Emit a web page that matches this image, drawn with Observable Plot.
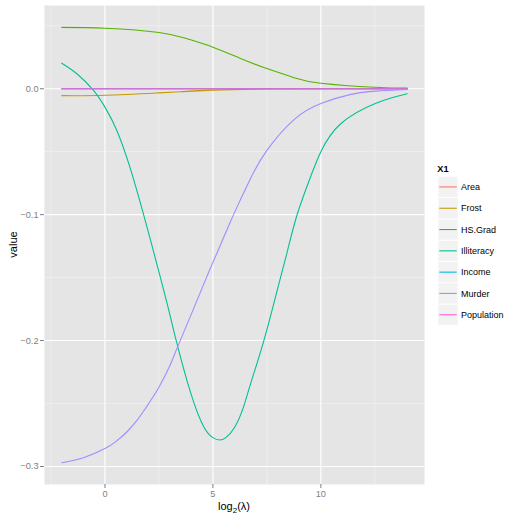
<!DOCTYPE html>
<html>
<head>
<meta charset="utf-8">
<script src="https://cdn.jsdelivr.net/npm/d3@7"></script>
<script src="https://cdn.jsdelivr.net/npm/@observablehq/plot@0.6"></script>
<style>
  html, body { margin: 0; padding: 0; background: #ffffff; }
  #chart { width: 506px; height: 514px; }
</style>
</head>
<body>
<div id="chart"></div>
<script>
// ---- data ----
const seriesNames = ["Area", "Frost", "HS.Grad", "Illiteracy", "Income", "Murder", "Population"];
const seriesColors = ["#F8766D", "#C49A00", "#53B400", "#00C094", "#00B6EB", "#A58AFF", "#FB61D7"];

const areaX = [-2, 2, 6, 10, 14];
const areaY = [0, 0, 0, 0, 0];

const frostX = [-2, 0, 2.5, 3.5, 5, 7.5, 10, 14];
const frostY = [-0.0055, -0.0052, -0.0033, -0.0024, -0.0011, -0.0002, 0, 0];

const hsGradX = [-2, 0, 2.5, 3.8, 5, 6.28, 7.5, 8.76, 10, 12.5, 14];
const hsGradY = [0.0487, 0.0480, 0.0447, 0.0397, 0.0330, 0.0240, 0.0160, 0.0088, 0.0044, 0.0012, 0.0005];

const illiteracyX = [-2, -1.3, -0.53, 0, 0.56, 1.17, 1.79, 2.57, 3.03, 3.3, 3.96, 4.58, 5.0, 5.3, 5.6, 6.0, 6.4, 6.75, 7.36, 7.98, 8.45, 8.91, 9.5, 10, 10.92, 12.55, 14];
const illiteracyY = [0.0203, 0.0119, -0.0013, -0.0146, -0.0335, -0.0630, -0.100, -0.150, -0.181, -0.200, -0.241, -0.2686, -0.2771, -0.2790, -0.2771, -0.2690, -0.2536, -0.234, -0.200, -0.160, -0.129, -0.0995, -0.071, -0.050, -0.0278, -0.0115, -0.004];

const incomeX = [-2, 2, 6, 10, 14];
const incomeY = [0, 0, 0, 0, 0];

const murderX = [-2, -1, 0, 0.5, 1, 1.5, 1.87, 2.5, 3.03, 3.34, 4, 4.7, 5.2, 5.8, 6.28, 6.75, 7.5, 8.76, 10, 11.39, 12.55, 14];
const murderY = [-0.297, -0.2930, -0.2857, -0.2802, -0.2728, -0.2630, -0.254, -0.237, -0.219, -0.206, -0.179, -0.150, -0.130, -0.106, -0.088, -0.071, -0.049, -0.0245, -0.0118, -0.0045, -0.0019, -0.0006];

const populationX = [-2, 2, 6, 10, 14];
const populationY = [0, 0, 0, 0, 0];

const xTicks = [0, 5, 10];
const xMinor = [-2.5, 2.5, 7.5, 12.5];
const yTicks = [-0.3, -0.2, -0.1, 0.0];
const yMinor = [-0.25, -0.15, -0.05, 0.05];

// ---- build table ----
const seriesXY = {
  "Area": [areaX, areaY], "Frost": [frostX, frostY], "HS.Grad": [hsGradX, hsGradY],
  "Illiteracy": [illiteracyX, illiteracyY], "Income": [incomeX, incomeY],
  "Murder": [murderX, murderY], "Population": [populationX, populationY]
};
const rows = [];
for (const name of seriesNames) {
  const [xs, ys] = seriesXY[name];
  xs.forEach((x, i) => rows.push({name, x, y: ys[i]}));
}

const fmtY = d => (d < 0 ? "\u2212" : "") + Math.abs(d).toFixed(1);
const FONT = "Liberation Sans, Arial, sans-serif";

const chart = Plot.plot({
  width: 506,
  height: 514,
  marginLeft: 44,
  marginRight: 82,
  marginTop: 5,
  marginBottom: 30,
  style: {fontFamily: FONT, background: "white", color: "#7F7F7F"},
  x: {domain: [-2.8, 14.8]},
  y: {domain: [-0.3143, 0.0661]},
  color: {domain: seriesNames, range: seriesColors},
  marks: [
    Plot.frame({fill: "#E5E5E5", stroke: null}),
    Plot.ruleX(xMinor, {stroke: "#F2F2F2", strokeWidth: 0.7}),
    Plot.ruleY(yMinor, {stroke: "#F2F2F2", strokeWidth: 0.7}),
    Plot.ruleX(xTicks, {stroke: "#FFFFFF", strokeWidth: 1.1}),
    Plot.ruleY(yTicks, {stroke: "#FFFFFF", strokeWidth: 1.1}),
    Plot.line(rows, {x: "x", y: "y", z: "name", stroke: "name", strokeWidth: 1.1, curve: "natural"}),
    Plot.axisX(xTicks, {tickSize: 4, tickPadding: 2, fontSize: 9.2, label: null, tickFormat: d => String(d), stroke: "#7F7F7F", fill: "#7F7F7F"}),
    Plot.axisY(yTicks, {tickSize: 4, tickPadding: 2, fontSize: 9.2, label: null, tickFormat: fmtY, stroke: "#7F7F7F", fill: "#7F7F7F"})
  ]
});
document.getElementById("chart").appendChild(chart);

// axis titles
const svg = d3.select(chart);
svg.append("text")
  .attr("transform", "translate(16.5,244.5) rotate(-90)")
  .attr("text-anchor", "middle")
  .attr("font-size", 11)
  .attr("fill", "#000")
  .text("value");
const xl = svg.append("text")
  .attr("x", 234).attr("y", 510)
  .attr("text-anchor", "middle")
  .attr("font-size", 11)
  .attr("fill", "#000");
xl.append("tspan").text("log");
xl.append("tspan").attr("font-size", 8).attr("dy", 3).text("2");
xl.append("tspan").attr("dy", -3).text("(\u03BB)");

// legend (drawn in the svg's right margin)
const lg = svg.append("g").attr("font-family", FONT).attr("text-anchor", "start");
lg.append("text").attr("x", 437.3).attr("y", 171.6).attr("text-anchor", "start")
  .attr("font-size", 9.2).attr("font-weight", "bold").attr("fill", "#000").text("X1");
const top0 = 176.8, pitch = 21.3;
seriesNames.forEach((name, i) => {
  const y0 = top0 + i * pitch;
  lg.append("rect").attr("x", 438.3).attr("y", y0).attr("width", 19.4).attr("height", 20.3).attr("fill", "#F2F2F2");
  lg.append("line").attr("x1", 439.3).attr("x2", 456.7).attr("y1", y0 + 10.15).attr("y2", y0 + 10.15)
    .attr("stroke", seriesColors[i]).attr("stroke-width", 1.1);
  lg.append("text").attr("x", 461).attr("y", y0 + 10.15).attr("dy", "0.35em").attr("text-anchor", "start")
    .attr("font-size", 9).attr("fill", "#000").text(name);
});
</script>
</body>
</html>
